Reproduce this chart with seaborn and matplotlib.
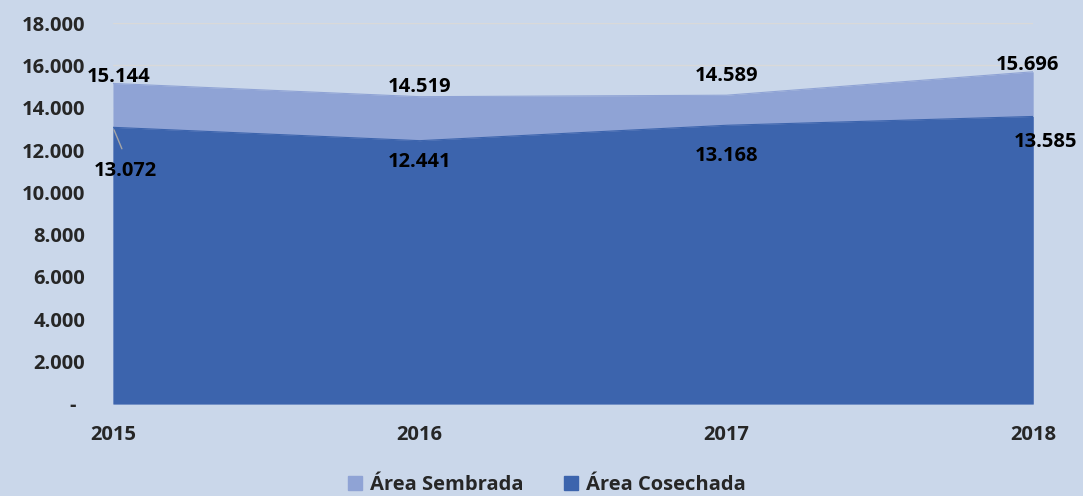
import matplotlib
matplotlib.use("Agg")
import matplotlib.pyplot as plt
import matplotlib.ticker as mticker
from matplotlib.patches import Patch
import seaborn as sns
import pandas as pd

# Data
years = [2015, 2016, 2017, 2018]
sembrada = [15144, 14519, 14589, 15696]
cosechada = [13072, 12441, 13168, 13585]

bg = '#CAD7EA'
c_semb = '#8FA3D5'
c_cos = '#3C64AD'

sns.set_theme(style='white')
plt.rcParams['font.family'] = ['Open Sans', 'DejaVu Sans']
fs = 14.5

df = pd.DataFrame({'year': years, 'Área Sembrada': sembrada, 'Área Cosechada': cosechada})

fig = plt.figure(figsize=(10.83, 4.96), dpi=100, facecolor=bg)
ax = fig.add_axes([0.1043, 0.1855, 0.8497, 0.7681])
ax.set_facecolor(bg)

ax.fill_between(df['year'], df['Área Sembrada'], color=c_semb, linewidth=0, zorder=2)
ax.fill_between(df['year'], df['Área Cosechada'], color=c_cos, linewidth=0, zorder=3)
sns.lineplot(data=df, x='year', y='Área Sembrada', ax=ax, color=c_semb, linewidth=0.8, zorder=2)
sns.lineplot(data=df, x='year', y='Área Cosechada', ax=ax, color=c_cos, linewidth=0.8, zorder=3)

ax.set_xlim(2015, 2018)
ax.set_ylim(0, 18000)
ax.set_yticks(range(0, 18001, 2000))
ax.yaxis.set_major_formatter(mticker.FuncFormatter(
    lambda v, p: '-' if v == 0 else f'{int(v):,}'.replace(',', '.')))
ax.set_xticks(years)
ax.set_xticklabels([str(y) for y in years])
ax.grid(axis='y', color='#D9D9D9', linewidth=1, zorder=1)
ax.set_axisbelow(True)
for s in ax.spines.values():
    s.set_visible(False)
ax.tick_params(axis='both', length=0, labelsize=fs)
ax.tick_params(axis='y', pad=20)
ax.tick_params(axis='x', pad=15)
for lab in ax.get_xticklabels() + ax.get_yticklabels():
    lab.set_fontweight('bold')
ax.get_yticklabels()[0].set_x(-0.01)
ax.set_xlabel('')
ax.set_ylabel('')

fmt = lambda v: f'{v:,}'.replace(',', '.')
semb_off = [(6, 6), (0, 10), (0, 19), (-6, 7)]
cos_off = [(12, -44), (0, -21), (0, -31), (12, -26)]
for x, v, o in zip(years, sembrada, semb_off):
    ax.annotate(fmt(v), (x, v), xytext=o, textcoords='offset pixels',
                ha='center', va='center', fontsize=fs, fontweight='bold',
                color='black', zorder=5, annotation_clip=False)
for x, v, o in zip(years, cosechada, cos_off):
    ax.annotate(fmt(v), (x, v), xytext=o, textcoords='offset pixels',
                ha='center', va='center', fontsize=fs, fontweight='bold',
                color='black', zorder=5, annotation_clip=False)
# leader line for first harvested label
ax.annotate('', (2015, cosechada[0]), xytext=(10, -24), textcoords='offset pixels',
            arrowprops=dict(arrowstyle='-', color='#A6A6A6', lw=1), zorder=5)

handles = [Patch(color=c_semb, label='Área Sembrada'), Patch(color=c_cos, label='Área Cosechada')]
leg = fig.legend(handles=handles, loc='lower center', ncol=2, frameon=False,
                 bbox_to_anchor=(0.505, -0.035), handlelength=0.7, handleheight=0.7,
                 handletextpad=0.4, columnspacing=2.0,
                 prop={'size': fs, 'weight': 'bold'})

fig.savefig('out.png', dpi=100, facecolor=bg)
